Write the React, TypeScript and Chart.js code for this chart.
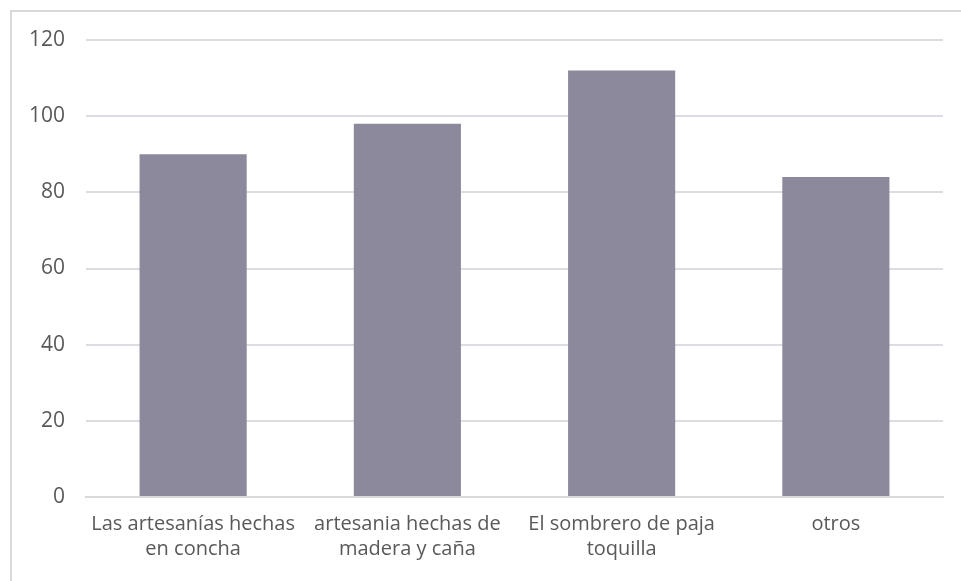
import React, { useEffect, useRef } from "react";
import { Chart, registerables } from "chart.js";

Chart.register(...registerables);

const categories: string[][] = [
  ["Las artesanías hechas", "en concha"],
  ["artesania hechas de", "madera y caña"],
  ["El sombrero de paja", "toquilla"],
  ["otros"],
];
const values: number[] = [90, 98, 112, 84];
const yTicks: number[] = [0, 20, 40, 60, 80, 100, 120];

const FONT = "'Open Sans', 'Noto Sans', sans-serif";

export default function App() {
  const ref = useRef<HTMLCanvasElement | null>(null);
  useEffect(() => {
    if (!ref.current) return;
    const chart = new Chart(ref.current, {
      type: "bar",
      data: {
        labels: categories,
        datasets: [
          {
            data: values,
            backgroundColor: "#8b899b",
            borderWidth: 0,
            categoryPercentage: 1,
            barPercentage: 0.5,
          },
        ],
      },
      options: {
        animation: false,
        responsive: false,
        maintainAspectRatio: false,
        layout: { padding: { top: 28, right: 18, bottom: 0, left: 0 } },
        plugins: { legend: { display: false }, tooltip: { enabled: false } },
        scales: {
          x: {
            grid: { display: false, drawTicks: false },
            border: { display: true, color: "#d9d9d9", width: 2 },
            ticks: {
              color: "#595959",
              font: { family: FONT, size: 20, lineHeight: 1.25 },
              padding: 15,
              maxRotation: 0,
              autoSkip: false,
            },
            afterFit: (s: any) => {
              s.height = 84;
            },
          },
          y: {
            min: 0,
            max: 120,
            afterBuildTicks: (s: any) => {
              s.ticks = yTicks.map((v) => ({ value: v }));
            },
            grid: {
              color: "#dcdce2",
              lineWidth: 2,
              drawTicks: true,
              tickLength: 20,
              tickColor: "rgba(0,0,0,0)",
            },
            border: { display: false },
            ticks: {
              color: "#595959",
              font: { family: FONT, size: 21 },
              padding: 1,
            },
            afterFit: (s: any) => {
              s.width = 74;
            },
          },
        },
      },
    });
    return () => chart.destroy();
  }, []);
  return (
    <div
      style={{
        position: "absolute",
        left: 10,
        top: 10,
        width: 951,
        height: 571,
        boxSizing: "border-box",
        borderTop: "2px solid #d9d9d9",
        borderLeft: "2px solid #d9d9d9",
        background: "#fff",
      }}
    >
      <canvas ref={ref} width={949} height={569} style={{ display: "block" }} />
    </div>
  );
}
